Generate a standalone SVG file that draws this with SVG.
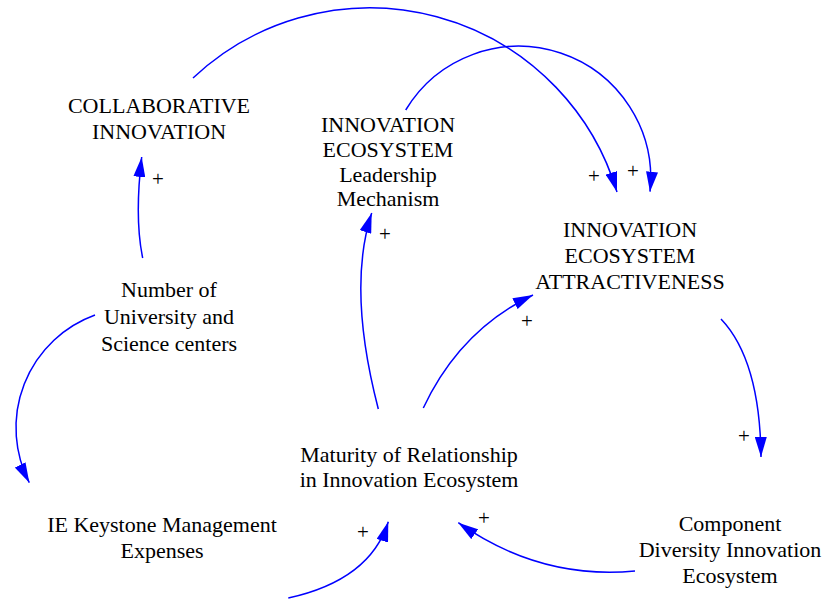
<svg xmlns="http://www.w3.org/2000/svg" width="824" height="601" viewBox="0 0 824 601">
<style>
.lbl{font-family:'Liberation Serif','DejaVu Serif',serif;font-size:22px;fill:#000;text-anchor:middle}
.pol{font-family:'Liberation Serif','DejaVu Serif',serif;font-size:21px;fill:#000;text-anchor:middle}
.link{fill:none;stroke:#0000FF;stroke-width:1.5;marker-end:url(#ah)}
</style>
<defs>
<marker id="ah" markerUnits="userSpaceOnUse" markerWidth="20" markerHeight="12" refX="20" refY="6" orient="auto" viewBox="0 0 20 12">
<path d="M0,0 L20,6 L0,12 z" fill="#0000FF"/>
</marker>
</defs>
<rect width="824" height="601" fill="#fff"/>
<g id="connectors">
<path class="link" d="M193,78 A258,258 0 0,1 617,192"/>
<path class="link" d="M405.7,110 A132,132 0 0,1 650,191.7"/>
<path class="link" d="M142.7,258 Q134.4,218.5 141.7,157"/>
<path class="link" d="M378.3,409 Q347,288.5 371.7,213"/>
<path class="link" d="M423.3,408 Q460,330 533,295"/>
<path class="link" d="M721,319 Q760,360 761,457"/>
<path class="link" d="M635,571 Q540,580 458.3,522.7"/>
<path class="link" d="M95,315 A120,120 0 0,0 29.3,482.7"/>
<path class="link" d="M288.3,598 Q370,580 388.3,521.7"/>
<text class="pol" x="158" y="186">+</text>
<text class="pol" x="385" y="241">+</text>
<text class="pol" x="527" y="328">+</text>
<text class="pol" x="744" y="443">+</text>
<text class="pol" x="484" y="525">+</text>
<text class="pol" x="363" y="539">+</text>
<text class="pol" x="594" y="183">+</text>
<text class="pol" x="633" y="178">+</text>
</g>
<g id="collaborative-innovation">
<text class="lbl" x="159" y="113">COLLABORATIVE</text>
<text class="lbl" x="159" y="139">INNOVATION</text>
</g>
<g id="leadership-mechanism">
<text class="lbl" x="388" y="132">INNOVATION</text>
<text class="lbl" x="388" y="157">ECOSYSTEM</text>
<text class="lbl" x="388" y="182">Leadership</text>
<text class="lbl" x="388" y="206">Mechanism</text>
</g>
<g id="ecosystem-attractiveness">
<text class="lbl" x="630" y="237">INNOVATION</text>
<text class="lbl" x="630" y="263">ECOSYSTEM</text>
<text class="lbl" x="630" y="289">ATTRACTIVENESS</text>
</g>
<g id="number-of-university">
<text class="lbl" x="169" y="297">Number of</text>
<text class="lbl" x="169" y="324">University and</text>
<text class="lbl" x="169" y="351">Science centers</text>
</g>
<g id="maturity-of-relationship">
<text class="lbl" x="409" y="462">Maturity of Relationship</text>
<text class="lbl" x="409" y="487">in Innovation Ecosystem</text>
</g>
<g id="ie-keystone-management">
<text class="lbl" x="162" y="532">IE Keystone Management</text>
<text class="lbl" x="162" y="558">Expenses</text>
</g>
<g id="component-diversity">
<text class="lbl" x="730" y="531">Component</text>
<text class="lbl" x="730" y="557">Diversity Innovation</text>
<text class="lbl" x="730" y="583">Ecosystem</text>
</g>
</svg>
